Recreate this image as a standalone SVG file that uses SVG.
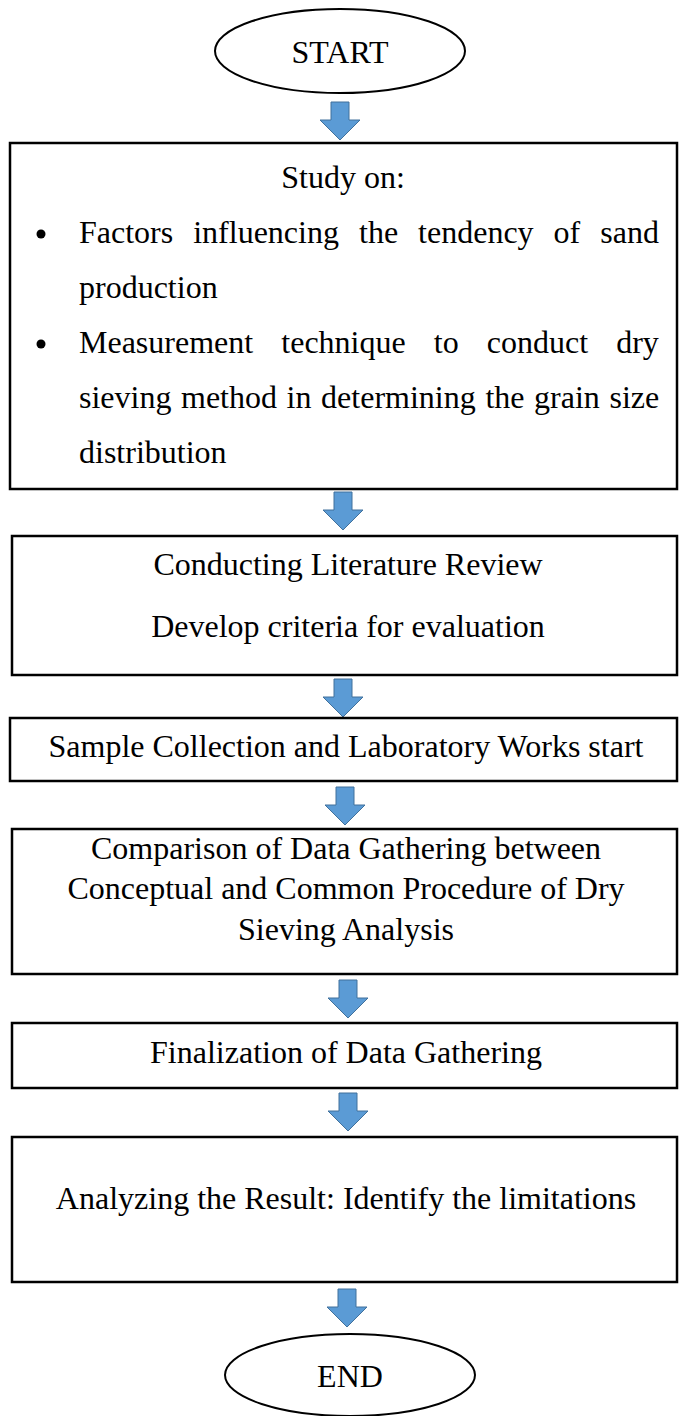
<svg xmlns="http://www.w3.org/2000/svg" width="679" height="1416" viewBox="0 0 679 1416">
<style>
.box{fill:#fff;stroke:#000;stroke-width:2.5}
.term{fill:#fff;stroke:#000;stroke-width:2}
.t{font-family:"Liberation Serif","Times New Roman",serif;font-size:32px;fill:#000}
.c{text-anchor:middle}
.arr{fill:#5B9BD5;stroke:#41719C;stroke-width:1}
</style>
<defs>
<path id="ar" d="M-9,0 H9 V18 H20 L0,38 L-20,18 H-9 Z"/>
</defs>
<rect width="679" height="1416" fill="#fff"/>
<g id="connectors">
<use href="#ar" class="arr" x="340" y="102"/>
<use href="#ar" class="arr" x="343" y="492"/>
<use href="#ar" class="arr" x="343" y="679"/>
<use href="#ar" class="arr" x="345" y="787"/>
<use href="#ar" class="arr" x="348" y="980"/>
<use href="#ar" class="arr" x="348" y="1093"/>
<use href="#ar" class="arr" x="347" y="1289"/>
</g>
<g id="start">
<ellipse class="term" cx="340" cy="51" rx="125" ry="42"/>
<text class="t c" x="340" y="63">START</text>
</g>
<g id="study">
<rect class="box" x="10" y="143" width="667" height="346"/>
<text class="t c" x="343" y="188">Study on:</text>
<circle cx="41" cy="234" r="4.5"/>
<text class="t" y="243"><tspan x="79">Factors</tspan><tspan x="193.2">influencing</tspan><tspan x="359">the</tspan><tspan x="418.1">tendency</tspan><tspan x="553.6">of</tspan><tspan x="600.3">sand</tspan></text>
<text class="t" x="79" y="298">production</text>
<circle cx="41" cy="344" r="4.5"/>
<text class="t" y="353"><tspan x="79">Measurement</tspan><tspan x="281.3">technique</tspan><tspan x="433.8">to</tspan><tspan x="486.8">conduct</tspan><tspan x="616.2">dry</tspan></text>
<text class="t" y="408"><tspan x="79">sieving</tspan><tspan x="181">method</tspan><tspan x="286.6">in</tspan><tspan x="321.1">determining</tspan><tspan x="485.4">the</tspan><tspan x="534.1">grain</tspan><tspan x="609.5">size</tspan></text>
<text class="t" x="79" y="463">distribution</text>
</g>
<g id="literature">
<rect class="box" x="12" y="536" width="665" height="139"/>
<text class="t c" x="348" y="575">Conducting Literature Review</text>
<text class="t c" x="348" y="637">Develop criteria for evaluation</text>
</g>
<g id="sample">
<rect class="box" x="10" y="718" width="667" height="63"/>
<text class="t c" x="346" y="757">Sample Collection and Laboratory Works start</text>
</g>
<g id="comparison">
<rect class="box" x="12" y="829" width="665" height="145"/>
<text class="t c" x="346" y="859">Comparison of Data Gathering between</text>
<text class="t c" x="346" y="899">Conceptual and Common Procedure of Dry</text>
<text class="t c" x="346" y="940">Sieving Analysis</text>
</g>
<g id="finalization">
<rect class="box" x="12" y="1023" width="665" height="65"/>
<text class="t c" x="346" y="1063">Finalization of Data Gathering</text>
</g>
<g id="analyzing">
<rect class="box" x="12" y="1137" width="665" height="145"/>
<text class="t c" x="346" y="1209">Analyzing the Result: Identify the limitations</text>
</g>
<g id="end">
<ellipse class="term" cx="350" cy="1375" rx="125" ry="41"/>
<text class="t c" x="350" y="1387">END</text>
</g>
</svg>
